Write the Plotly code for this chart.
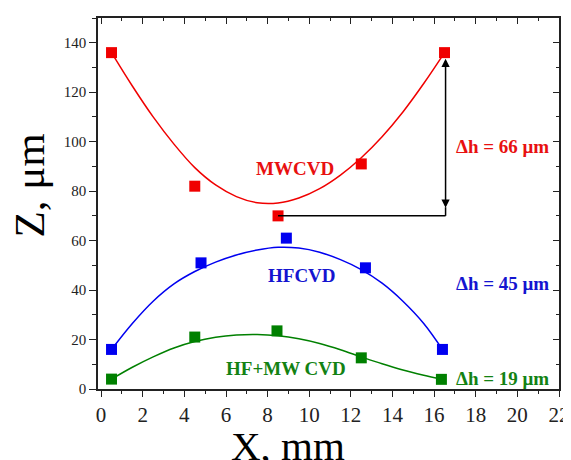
import plotly.graph_objects as go

# measured points
mw_x = [0.5, 4.5, 8.5, 12.5, 16.5]
mw_y = [136, 82, 70, 91, 136]
hf_x = [0.5, 4.8, 8.9, 12.7, 16.4]
hf_y = [16, 51, 61, 49, 16]
gr_x = [0.5, 4.5, 8.45, 12.5, 16.35]
gr_y = [4, 21, 23.5, 12.6, 3.9]

# fitted curves
mw_fit_x = [0.5, 1.5, 2.5, 3.5, 4.5, 5.5, 6.5, 7.5, 8.5, 9.5, 10.5, 11.5, 12.5, 13.5, 14.5, 15.5, 16.5]
mw_fit_y = [136, 122.5, 110, 99, 89.5, 82.5, 77.8, 75.3, 75.2, 77.2, 81, 86.5, 93.5, 102, 112, 123.5, 136]
hf_fit_x = [0.5, 1.5, 2.5, 3.5, 4.5, 5.5, 6.5, 7.5, 8.5, 9.5, 10.5, 11.5, 12.5, 13.5, 14.5, 15.5, 16.4]
hf_fit_y = [16, 26.5, 35.5, 42.5, 47.5, 51.3, 54.2, 56.2, 57.3, 57.0, 55.3, 52.3, 48.3, 42.8, 35.5, 26.5, 16]
gr_fit_x = [0.5, 1.5, 2.5, 3.5, 4.5, 5.5, 6.5, 7.5, 8.5, 9.5, 10.5, 11.5, 12.5, 13.5, 14.5, 15.5, 16.35]
gr_fit_y = [4, 8.8, 13.0, 16.6, 19.2, 20.9, 21.8, 22.0, 21.5, 20.3, 18.4, 15.9, 13.0, 10.2, 7.7, 5.6, 4.0]

labels = ["MWCVD", "HFCVD", "HF+MW CVD"]
dh_labels = ["\u0394h = 66 \u03bcm", "\u0394h = 45 \u03bcm", "\u0394h = 19 \u03bcm"]

RED = "#f00000"
BLUE = "#0000f0"
GREEN = "#008000"
TRED = "#e81010"
TBLUE = "#1414d0"
TGREEN = "#138213"

fig = go.Figure()
for fx, fy, px, py, col in [(mw_fit_x, mw_fit_y, mw_x, mw_y, RED),
                            (hf_fit_x, hf_fit_y, hf_x, hf_y, BLUE),
                            (gr_fit_x, gr_fit_y, gr_x, gr_y, GREEN)]:
    fig.add_trace(go.Scatter(x=fx, y=fy, mode="lines", line=dict(color=col, width=1.5, shape="spline", smoothing=1.0),
                             showlegend=False, hoverinfo="skip"))
    fig.add_trace(go.Scatter(x=px, y=py, mode="markers", marker=dict(symbol="square", size=11, color=col),
                             showlegend=False))

# dummy trace for mirrored axes
fig.add_trace(go.Scatter(x=[None], y=[None], xaxis="x2", yaxis="y2", showlegend=False, hoverinfo="skip"))

# horizontal reference line and vertical connector
fig.add_shape(type="line", xref="x", yref="y", x0=mw_x[2], y0=mw_y[2], x1=16.55, y1=mw_y[2],
              line=dict(color="black", width=1.5))
fig.add_shape(type="line", xref="x", yref="y", x0=16.55, y0=mw_y[2], x1=16.55, y1=73.5,
              line=dict(color="black", width=1.5))
fig.add_annotation(x=16.55, y=133.5, ax=16.55, ay=72.7, xref="x", yref="y", axref="x", ayref="y",
                   text="", showarrow=True, arrowhead=2, startarrowhead=2, arrowside="end+start",
                   arrowsize=1.1, arrowwidth=1.5, arrowcolor="black", standoff=0, startstandoff=0)

lab_font = "Liberation Serif"
for txt, x, y, c in [(labels[0], 9.31, 89.2, TRED), (labels[1], 9.64, 46.0, TBLUE), (labels[2], 8.9, 8.2, TGREEN),
                     (dh_labels[0], 19.27, 98.0, TRED), (dh_labels[1], 19.27, 42.5, TBLUE),
                     (dh_labels[2], 19.27, 4.2, TGREEN)]:
    fig.add_annotation(x=x, y=y, xref="x", yref="y", text="<b>%s</b>" % txt, showarrow=False,
                       font=dict(family=lab_font, size=19, color=c), xanchor="center", yanchor="middle")

# axis titles
fig.add_annotation(x=9.0, y=-0.153, xref="x", yref="paper", text="X, mm", showarrow=False,
                   font=dict(family=lab_font, size=41, color="black"), xanchor="center", yanchor="middle")
fig.add_annotation(x=-0.148, y=0.548, xref="paper", yref="paper", text="Z, \u03bcm", showarrow=False,
                   textangle=-90, font=dict(family=lab_font, size=43, color="black"),
                   xanchor="center", yanchor="middle")

# the page body has an 8px margin, so the figure is made 8px smaller
PAGE_OFF = 8
axcol = "#222222"
fig.update_layout(
    width=571 - PAGE_OFF, height=460 - PAGE_OFF,
    margin=dict(l=97.5 - PAGE_OFF, r=12, t=18 - PAGE_OFF, b=71, autoexpand=False),
    paper_bgcolor="white", plot_bgcolor="white",
    font=dict(family=lab_font, color="#222222"),
    xaxis=dict(range=[-0.15, 22], dtick=2, tick0=0, showgrid=False, zeroline=False,
               showline=True, linecolor=axcol, linewidth=1.5,
               ticks="outside", ticklen=6, tickwidth=1.3, tickcolor=axcol,
               minor=dict(ticks="outside", ticklen=3, dtick=1, tickwidth=1.2, tickcolor=axcol, showgrid=False),
               tickfont=dict(family=lab_font, size=21, color="#222222")),
    yaxis=dict(range=[0, 150], dtick=20, tick0=0, showgrid=False, zeroline=False,
               showline=True, linecolor=axcol, linewidth=1.5,
               ticks="outside", ticklen=7, tickwidth=1.3, tickcolor=axcol,
               minor=dict(ticks="outside", ticklen=4, dtick=10, tickwidth=1.2, tickcolor=axcol, showgrid=False),
               tickfont=dict(family=lab_font, size=15, color="#222222")),
    xaxis2=dict(range=[-0.15, 22], dtick=2, tick0=0, overlaying="x", side="top", anchor="y",
                showgrid=False, zeroline=False, showline=True, linecolor=axcol, linewidth=1.5,
                ticks="inside", ticklen=6, tickwidth=1.3, tickcolor=axcol, showticklabels=False,
                minor=dict(ticks="inside", ticklen=3, dtick=1, tickwidth=1.2, tickcolor=axcol, showgrid=False)),
    yaxis2=dict(range=[0, 150], dtick=20, tick0=0, overlaying="y", side="right", anchor="x",
                showgrid=False, zeroline=False, showline=True, linecolor=axcol, linewidth=1.5,
                ticks="inside", ticklen=6, tickwidth=1.3, tickcolor=axcol, showticklabels=False,
                minor=dict(ticks="inside", ticklen=3, dtick=10, tickwidth=1.2, tickcolor=axcol, showgrid=False)),
)

fig.write_html("out.html")
